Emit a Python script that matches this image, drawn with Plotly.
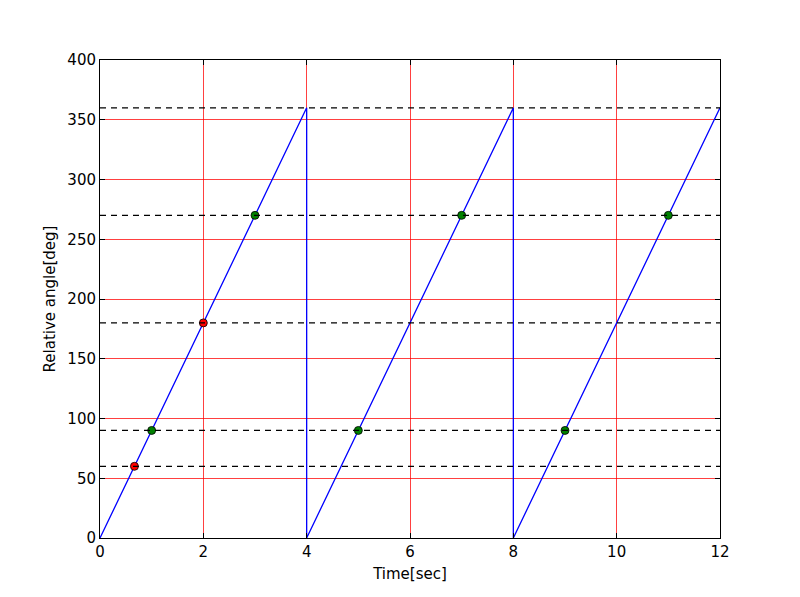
import plotly.graph_objects as go

line_t = [0, 4, 4, 8, 8, 12]
line_a = [0, 360, 0, 360, 0, 360]
green_t = [1, 3, 5, 7, 9, 11]
green_a = [90, 270, 90, 270, 90, 270]
red_t = [2/3, 2]
red_a = [60, 180]
dash_levels = [60, 90, 180, 270, 360]

fig = go.Figure()
for lv in dash_levels:
    fig.add_hline(y=lv, line=dict(color="black", width=1.3, dash="6px,5px"))
fig.add_trace(go.Scatter(x=line_t, y=line_a, mode="lines", line=dict(color="blue", width=1.3)))
fig.add_trace(go.Scatter(x=green_t, y=green_a, mode="markers",
                         marker=dict(color="green", size=8, line=dict(color="black", width=0.8))))
fig.add_trace(go.Scatter(x=red_t, y=red_a, mode="markers",
                         marker=dict(color="red", size=8, line=dict(color="black", width=0.8))))
ax = dict(showgrid=True, gridcolor="rgba(255,0,0,0.75)", gridwidth=0.8, zeroline=False,
          showline=True, linecolor="black", linewidth=1, mirror="ticks",
          ticks="inside", ticklen=5, tickcolor="black",
          tickfont=dict(family="DejaVu Sans", size=15, color="black"))
fig.update_xaxes(range=[0, 12], dtick=2, title=dict(text="Time[sec]", font=dict(family="DejaVu Sans", size=15, color="black"), standoff=8), **ax)
fig.update_yaxes(range=[0, 400], dtick=50, title=dict(text="Relative angle[deg]", font=dict(family="DejaVu Sans", size=15, color="black"), standoff=8), **ax)
fig.update_layout(width=800, height=597, showlegend=False, plot_bgcolor="white", paper_bgcolor="white",
                  margin=dict(l=92, r=88, t=52, b=67))
fig.write_html("out.html")
